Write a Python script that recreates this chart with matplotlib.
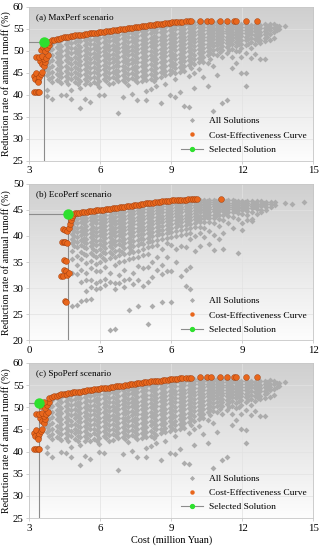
import numpy as np
import matplotlib.pyplot as plt
from matplotlib.lines import Line2D
from matplotlib.colors import LinearSegmentedColormap

plt.rcParams['font.family'] = ['Liberation Serif', 'DejaVu Serif']

# --- nube de soluciones, escenario (a) MaxPerf (columnas de coste y sus tasas) ---
cloud_cost_a = [3.75, 3.95, 4.15, 4.35, 4.55, 4.75, 4.95, 5.15, 5.35, 5.55, 5.75, 5.95,
                6.15, 6.35, 6.55, 6.75, 6.95, 7.15, 7.35, 7.55, 7.75, 7.95, 8.15, 8.35,
                8.55, 8.75, 8.95, 9.15, 9.35, 9.55, 9.75, 9.95, 10.15, 10.35, 10.55, 10.75,
                10.95, 11.15, 11.35, 11.55, 11.75, 11.95, 12.15, 12.35, 12.55, 12.75, 12.95,
                13.15, 13.35, 13.55, 13.8]
cloud_rate_a = [
    [51.0, 49.5, 48.2, 47.0, 45.6, 44.4, 41.0, 39.6],
    [51.6, 50.4, 49.0, 47.8, 46.5, 45.2, 44.0, 42.8, 38.9],
    [52.0, 50.8, 49.4, 48.6, 47.3, 45.8, 44.6, 43.4],
    [52.3, 51.1, 49.9, 48.8, 47.4, 46.2, 45.0, 43.9, 42.6, 40.0],
    [52.6, 51.4, 50.2, 49.1, 47.9, 46.6, 45.4, 44.3, 43.0, 39.8],
    [52.8, 51.7, 50.5, 49.4, 48.2, 47.0, 45.9, 44.7, 43.5, 41.0, 38.9],
    [53.0, 51.9, 50.7, 49.7, 48.6, 47.5, 46.3, 45.2, 44.1, 42.8],
    [53.1, 52.1, 50.9, 49.8, 48.8, 47.7, 46.7, 45.5, 44.4, 43.2, 41.6, 37.0],
    [53.3, 52.3, 51.2, 50.1, 49.0, 48.0, 46.9, 45.8, 44.6, 43.5, 42.3, 39.0],
    [53.5, 52.5, 51.4, 50.3, 49.3, 48.2, 47.2, 46.1, 45.0, 43.8, 42.5, 38.4],
    [53.6, 52.7, 51.6, 50.5, 49.5, 48.5, 47.4, 46.3, 45.2, 44.1, 42.9],
    [53.8, 52.9, 51.8, 50.7, 49.7, 48.7, 47.7, 46.6, 45.5, 44.4, 43.1, 41.8, 40.0],
    [54.0, 53.1, 52.0, 50.9, 50.0, 48.9, 47.9, 46.8, 45.8, 44.6, 43.5, 39.8],
    [54.1, 53.2, 52.2, 51.1, 50.1, 49.1, 48.1, 47.1, 46.0, 44.9, 43.7, 42.4],
    [54.3, 53.4, 52.4, 51.3, 50.3, 49.3, 48.3, 47.3, 46.2, 45.1, 44.0, 42.7],
    [54.4, 53.6, 52.6, 51.5, 50.6, 49.6, 48.5, 47.5, 46.4, 45.3, 44.2, 43.0, 35.8],
    [54.6, 53.8, 52.8, 51.7, 50.8, 49.8, 48.8, 47.7, 46.6, 45.6, 44.5, 43.3, 39.4],
    [54.8, 53.9, 53.0, 51.9, 50.9, 50.0, 49.0, 47.9, 46.9, 45.8, 44.7, 43.5, 42.2],
    [55.0, 54.1, 53.2, 52.1, 51.1, 50.2, 49.2, 48.2, 47.1, 46.0, 44.9, 43.8, 40.2],
    [55.1, 54.3, 53.4, 52.3, 51.3, 50.4, 49.4, 48.4, 47.3, 46.2, 45.2, 44.0, 42.8, 38.8],
    [55.3, 54.5, 53.6, 52.5, 51.5, 50.6, 49.6, 48.6, 47.5, 46.5, 45.4, 44.3, 43.1],
    [55.5, 54.7, 53.8, 52.7, 51.8, 50.8, 49.8, 48.8, 47.8, 46.7, 45.6, 44.5, 43.4, 40.9, 38.7],
    [55.6, 54.9, 54.0, 52.8, 51.9, 51.0, 50.0, 49.0, 48.0, 46.9, 45.9, 44.7, 43.6, 41.2],
    [55.8, 55.0, 54.2, 53.0, 52.1, 51.2, 50.2, 49.2, 48.2, 47.2, 46.1, 45.0, 43.8, 42.0],
    [55.9, 55.2, 54.3, 53.2, 52.3, 51.4, 50.4, 49.5, 48.5, 47.4, 46.3, 45.2, 44.1, 38.0],
    [56.1, 55.3, 54.5, 53.4, 52.5, 51.6, 50.7, 49.7, 48.7, 47.6, 46.5, 45.4, 44.4, 42.5],
    [56.2, 55.5, 54.7, 53.6, 52.7, 51.8, 50.9, 49.9, 48.9, 47.9, 46.8, 45.7, 44.6, 39.8],
    [56.3, 55.6, 54.8, 53.7, 52.9, 52.0, 51.1, 50.1, 49.1, 48.1, 47.0, 46.0, 44.9, 43.5, 39.5],
    [56.4, 55.7, 54.9, 53.9, 53.1, 52.2, 51.3, 50.3, 49.3, 48.3, 47.3, 46.2, 45.1, 40.5],
    [56.4, 55.8, 55.0, 54.0, 53.2, 52.4, 51.5, 50.5, 49.6, 48.6, 47.6, 46.5, 45.4, 37.5],
    [56.5, 55.9, 55.1, 54.2, 53.4, 52.6, 51.7, 50.8, 49.8, 48.8, 47.8, 46.7, 44.2, 37.1],
    [56.5, 55.9, 55.2, 54.3, 53.5, 52.7, 51.9, 51.0, 50.1, 49.1, 48.1, 47.0, 45.0, 41.5],
    [56.5, 56.0, 55.3, 54.4, 53.7, 52.9, 52.1, 51.2, 50.3, 49.4, 48.4, 47.3, 45.8],
    [56.5, 56.0, 55.3, 54.6, 53.8, 53.1, 52.3, 51.4, 50.5, 49.6, 48.6, 47.5, 44.0],
    [56.5, 56.0, 55.3, 54.7, 54.0, 53.2, 52.5, 51.6, 50.8, 49.9, 48.9, 47.2, 42.0],
    [56.4, 55.9, 55.2, 54.6, 54.0, 53.3, 52.6, 51.8, 51.0, 50.1, 49.2, 46.5, 36.2],
    [56.4, 55.9, 55.2, 54.6, 54.0, 53.4, 52.7, 52.0, 51.2, 50.3, 49.0, 44.5],
    [56.3, 55.8, 55.1, 54.5, 53.9, 53.3, 52.7, 51.9, 51.1, 50.2, 48.5, 38.0],
    [56.2, 55.7, 55.0, 54.5, 53.9, 53.2, 52.5, 51.7, 50.8, 49.5, 38.7],
    [56.1, 55.6, 54.9, 54.3, 53.7, 53.0, 52.3, 51.4, 50.4, 48.5, 46.0],
    [56.0, 55.4, 54.8, 54.2, 53.5, 52.8, 52.0, 51.0, 49.8, 47.2],
    [56.0, 55.3, 54.6, 54.0, 53.3, 52.5, 51.6, 50.5, 48.5, 45.0],
    [56.0, 55.3, 54.6, 53.9, 53.1, 52.3, 51.3, 49.5, 44.8, 42.0],
    [55.9, 55.2, 54.5, 53.7, 52.8, 51.9, 50.5, 48.3],
    [55.8, 55.1, 54.4, 53.5, 52.6, 51.5, 49.2],
    [55.9, 55.1, 54.3, 53.6, 52.5, 51.8, 48.0],
    [56.0, 55.2, 54.5, 53.7, 52.9, 52.1, 48.1],
    [56.1, 55.3, 54.6, 53.8, 52.3],
    [56.0, 55.2, 54.2, 52.8],
    [55.5, 54.8],
    [55.7],
]
# puntos intermedios de la zona densa (a)
fill_cost_a = [3.85, 4.25, 4.65, 5.05, 5.45, 5.85, 6.25, 6.65, 7.05, 7.45, 7.85, 8.25,
               8.65, 9.05, 9.45, 9.85, 10.25, 10.65, 11.05, 11.45, 11.85, 12.25, 12.65,
               13.05, 13.45]
fill_rate_a = [
    [50.9, 49.9, 48.7, 47.4, 46.0, 44.8, 43.6],
    [51.6, 50.4, 49.2, 48.0, 46.8, 45.5, 44.2, 43.0],
    [52.0, 50.8, 49.7, 48.5, 47.3, 46.1, 44.9, 43.7, 42.4],
    [52.4, 51.3, 50.2, 49.2, 48.1, 47.0, 45.8, 44.7, 43.6, 42.3],
    [52.8, 51.7, 50.6, 49.6, 48.5, 47.5, 46.4, 45.3, 44.2, 43.0],
    [53.2, 52.1, 51.1, 50.1, 49.1, 48.1, 47.0, 45.9, 44.8, 43.7, 42.4],
    [53.5, 52.5, 51.5, 50.5, 49.5, 48.5, 47.5, 46.4, 45.3, 44.2, 43.0],
    [53.9, 52.9, 51.9, 50.9, 49.9, 48.9, 47.9, 46.8, 45.7, 44.6, 43.5],
    [54.3, 53.3, 52.3, 51.3, 50.4, 49.4, 48.4, 47.3, 46.2, 45.1, 44.0, 42.8],
    [54.6, 53.7, 52.7, 51.7, 50.8, 49.8, 48.8, 47.7, 46.6, 45.5, 44.4, 43.3],
    [55.0, 54.0, 53.1, 52.1, 51.2, 50.2, 49.2, 48.2, 47.1, 46.0, 44.9, 43.8],
    [55.3, 54.4, 53.4, 52.5, 51.6, 50.6, 49.6, 48.6, 47.6, 46.5, 45.4, 44.3, 43.0],
    [55.6, 54.7, 53.8, 52.9, 52.0, 51.0, 50.1, 49.1, 48.1, 47.0, 45.9, 44.8],
    [55.9, 55.0, 54.2, 53.3, 52.4, 51.5, 50.5, 49.5, 48.5, 47.5, 46.4, 45.3],
    [56.1, 55.3, 54.5, 53.6, 52.7, 51.8, 50.9, 49.9, 48.9, 47.9, 46.8, 45.8],
    [56.2, 55.5, 54.7, 53.9, 53.1, 52.2, 51.3, 50.4, 49.4, 48.4, 47.4, 46.0],
    [56.3, 55.6, 54.9, 54.1, 53.3, 52.5, 51.7, 50.8, 49.9, 48.9, 47.9],
    [56.2, 55.6, 55.0, 54.3, 53.6, 52.9, 52.1, 51.2, 50.3, 49.4, 48.2],
    [56.1, 55.5, 54.9, 54.3, 53.6, 52.9, 52.2, 51.4, 50.6, 49.6],
    [55.9, 55.3, 54.7, 54.1, 53.5, 52.8, 52.0, 51.2, 50.1],
    [55.7, 55.1, 54.5, 53.8, 53.1, 52.3, 51.4, 50.0],
    [55.6, 55.0, 54.3, 53.5, 52.6, 51.6],
    [55.5, 54.8, 54.0, 53.1, 52.2],
    [55.6, 54.9, 54.1, 53.2],
    [55.5, 54.6],
]
# curva coste-efectividad (a)
curve_a = [(3.2, 40.6), (3.27, 40.5), (3.35, 40.7), (3.42, 40.6),
           (3.2, 44.2), (3.25, 43.5), (3.3, 44.8), (3.35, 43.2), (3.42, 43.9), (3.5, 44.6),
           (3.55, 45.1), (3.38, 42.9), (3.45, 47.6), (3.55, 47.0), (3.62, 46.5), (3.68, 47.3),
           (3.6, 48.0), (3.3, 48.6), (3.42, 48.5), (3.55, 48.7), (3.7, 48.4), (3.8, 48.9),
           (3.5, 50.2), (3.58, 50.8), (3.68, 49.9), (3.75, 50.5), (3.82, 51.2), (3.6, 51.3),
           (3.85, 52.0), (3.95, 52.3), (4.05, 52.5), (4.15, 52.6), (4.25, 52.75), (4.35, 52.9),
           (4.45, 53.0), (4.55, 53.1), (4.65, 53.15), (4.75, 53.25), (4.85, 53.35), (4.95, 53.45),
           (5.05, 53.5), (5.15, 53.55), (5.25, 53.65), (5.35, 53.75), (5.45, 53.8), (5.55, 53.9),
           (5.65, 53.95), (5.75, 54.05), (5.85, 54.1), (5.95, 54.2), (6.05, 54.25), (6.15, 54.3),
           (6.25, 54.4), (6.35, 54.45), (6.45, 54.5), (6.55, 54.6), (6.65, 54.7), (6.75, 54.75),
           (6.85, 54.85), (6.95, 54.9), (7.05, 55.0), (7.15, 55.05), (7.25, 55.15), (7.35, 55.25),
           (7.45, 55.3), (7.55, 55.4), (7.65, 55.45), (7.75, 55.55), (7.85, 55.6), (7.95, 55.7),
           (8.05, 55.75), (8.15, 55.85), (8.25, 55.9), (8.35, 55.95), (8.45, 56.0), (8.55, 56.05),
           (8.65, 56.15), (8.75, 56.2), (8.85, 56.25), (8.95, 56.3), (9.05, 56.4), (9.15, 56.45),
           (9.25, 56.5), (9.35, 56.6), (9.45, 56.6), (9.6, 56.65), (9.75, 56.7), (9.85, 56.7),
           (10.2, 56.75), (10.5, 56.8), (10.66, 56.75), (11.06, 56.8), (11.34, 56.8),
           (11.65, 56.8), (11.72, 56.8), (12.14, 56.8), (12.63, 56.75)]
selected_a = (3.63, 51.9)

# --- escenario (b) EcoPerf ---
cloud_cost_b = [1.8, 2.0, 2.2, 2.4, 2.6, 2.8, 3.0, 3.2, 3.4, 3.6, 3.8, 4.0, 4.2, 4.4, 4.6,
                4.8, 5.0, 5.2, 5.4, 5.6, 5.8, 6.0, 6.2, 6.4, 6.6, 6.8, 7.0, 7.2, 7.4, 7.6,
                7.8, 8.0, 8.2, 8.4, 8.6, 8.8, 9.0, 9.2, 9.4, 9.6, 9.8, 10.0, 10.2, 10.4,
                10.8, 11.1, 11.6]
cloud_rate_b = [
    [43.8, 43.0, 42.2, 41.3, 40.4, 39.5, 38.6, 37.2, 35.5, 33.0, 26.5],
    [44.0, 43.2, 42.4, 41.6, 40.7, 39.8, 38.9, 37.8, 36.2, 34.5, 32.8, 26.8],
    [44.2, 43.4, 42.6, 41.8, 41.0, 40.1, 39.2, 38.2, 37.0, 35.5, 33.5, 31.2, 27.5],
    [44.3, 43.5, 42.8, 42.0, 41.2, 40.4, 39.5, 38.6, 37.6, 36.3, 34.8, 33.0, 31.6, 29.5, 27.8],
    [44.4, 43.7, 43.0, 42.2, 41.4, 40.6, 39.8, 38.9, 38.0, 36.8, 35.2, 33.8, 31.5, 30.2, 28.0],
    [44.5, 43.8, 43.1, 42.4, 41.6, 40.8, 40.0, 39.1, 38.2, 37.2, 36.0, 34.6, 33.2, 31.0, 29.8],
    [44.7, 43.9, 43.2, 42.5, 41.8, 41.0, 40.2, 39.3, 38.4, 37.5, 36.3, 35.0, 33.2, 31.3, 30.0],
    [44.8, 44.0, 43.3, 42.6, 41.9, 41.2, 40.4, 39.6, 38.7, 37.7, 36.7, 35.4, 34.0, 31.7, 30.6],
    [44.9, 44.1, 43.5, 42.8, 42.1, 41.4, 40.6, 39.8, 38.9, 38.0, 36.9, 35.7, 33.0, 31.2, 22.0],
    [45.0, 44.3, 43.6, 42.9, 42.2, 41.5, 40.8, 40.0, 39.1, 38.2, 37.1, 36.0, 34.4, 31.0, 29.8, 22.2],
    [45.1, 44.4, 43.8, 43.1, 42.4, 41.7, 40.9, 40.1, 39.3, 38.4, 37.4, 36.3, 35.0, 32.5, 31.0],
    [45.3, 44.5, 43.9, 43.2, 42.5, 41.8, 41.1, 40.3, 39.5, 38.6, 37.6, 36.5, 35.2, 33.5, 31.5, 30.2],
    [45.4, 44.7, 44.0, 43.4, 42.7, 42.0, 41.3, 40.5, 39.7, 38.8, 37.8, 36.8, 35.5, 31.8, 25.8],
    [45.5, 44.8, 44.2, 43.5, 42.9, 42.2, 41.5, 40.7, 39.9, 39.0, 38.0, 37.0, 35.8, 33.0, 30.8],
    [45.7, 44.9, 44.3, 43.7, 43.0, 42.3, 41.6, 40.9, 40.1, 39.2, 38.3, 37.2, 36.0, 34.2, 31.6, 26.5],
    [45.8, 45.1, 44.5, 43.8, 43.2, 42.5, 41.8, 41.1, 40.3, 39.5, 38.5, 37.5, 36.4, 33.8, 30.5],
    [46.0, 45.2, 44.6, 44.0, 43.4, 42.7, 42.0, 41.3, 40.5, 39.7, 38.8, 37.8, 36.5, 34.0, 31.2, 23.2],
    [46.1, 45.4, 44.8, 44.2, 43.6, 42.9, 42.2, 41.5, 40.7, 39.9, 39.0, 38.0, 35.0, 32.2, 26.6],
    [46.2, 45.5, 44.9, 44.3, 43.7, 43.1, 42.4, 41.7, 40.9, 40.1, 39.2, 38.2, 36.0, 33.5],
    [46.4, 45.7, 45.1, 44.5, 43.9, 43.3, 42.6, 41.9, 41.1, 40.3, 39.4, 37.5, 34.5, 32.8, 27.3],
    [46.5, 45.8, 45.2, 44.6, 44.0, 43.4, 42.8, 42.1, 41.3, 40.5, 39.6, 38.6, 36.0, 33.2],
    [46.6, 46.0, 45.4, 44.8, 44.2, 43.6, 43.0, 42.3, 41.5, 40.7, 39.8, 38.2, 33.2, 27.3],
    [46.7, 46.1, 45.5, 44.9, 44.4, 43.8, 43.1, 42.5, 41.8, 41.0, 40.0, 37.5, 35.0],
    [46.8, 46.2, 45.6, 45.1, 44.5, 43.9, 43.3, 42.7, 42.0, 41.2, 40.2, 38.0, 32.3],
    [46.8, 46.3, 45.8, 45.2, 44.7, 44.1, 43.5, 42.8, 42.1, 41.3, 40.3, 37.8, 33.5, 30.5],
    [46.9, 46.4, 45.9, 45.4, 44.8, 44.2, 43.7, 43.0, 42.3, 41.5, 40.6, 39.5, 34.0, 29.8],
    [46.9, 46.5, 46.0, 45.5, 45.0, 44.4, 43.8, 43.2, 42.5, 41.8, 40.0, 37.2],
    [46.9, 46.5, 46.0, 45.5, 45.0, 44.5, 43.9, 43.3, 42.6, 41.8, 40.5, 38.0],
    [46.9, 46.5, 46.1, 45.6, 45.1, 44.6, 44.0, 43.4, 42.7, 41.5, 39.8],
    [46.9, 46.5, 46.1, 45.6, 45.1, 44.6, 44.1, 43.5, 42.6, 41.0, 38.5],
    [46.9, 46.5, 46.1, 45.7, 45.2, 44.7, 44.1, 43.5, 42.5, 40.2, 37.3],
    [46.9, 46.5, 46.1, 45.7, 45.2, 44.7, 44.1, 43.3, 42.0, 39.5],
    [46.8, 46.4, 46.0, 45.6, 45.2, 44.7, 44.0, 43.0, 40.5, 37.5],
    [46.8, 46.4, 46.0, 45.6, 45.1, 44.6, 43.8, 42.5],
    [46.8, 46.4, 46.0, 45.6, 45.1, 44.5, 43.6, 41.5],
    [46.7, 46.3, 45.9, 45.5, 45.0, 44.4, 43.3, 36.8],
    [46.7, 46.3, 45.9, 45.4, 44.9, 44.2, 42.5, 41.2],
    [46.7, 46.3, 45.9, 45.4, 44.8, 44.0, 43.0],
    [46.6, 46.2, 45.8, 45.3, 44.6, 43.2, 42.8],
    [46.6, 46.2, 45.7, 45.1, 44.2],
    [46.6, 46.2, 45.7, 45.0, 44.5],
    [46.5, 46.1, 45.6, 44.9],
    [46.5, 46.1, 45.6],
    [46.5, 46.0],
    [46.3],
    [46.2],
    [46.5],
]
# puntos intermedios de la zona densa (b)
fill_cost_b = [1.9, 2.3, 2.7, 3.1, 3.5, 3.9, 4.3, 4.7, 5.1, 5.5, 5.9, 6.3, 6.7, 7.1,
               7.5, 7.9, 8.3, 8.7, 9.1, 9.5, 9.9]
fill_rate_b = [
    [43.4, 42.6, 41.8, 40.9, 40.0, 39.1, 38.0],
    [43.8, 43.0, 42.2, 41.4, 40.6, 39.7, 38.8, 37.8, 36.6],
    [44.1, 43.4, 42.6, 41.8, 41.0, 40.2, 39.4, 38.5, 37.5, 36.3],
    [44.3, 43.6, 42.9, 42.1, 41.4, 40.6, 39.8, 39.0, 38.0, 37.0, 35.8],
    [44.6, 43.9, 43.2, 42.5, 41.8, 41.1, 40.3, 39.5, 38.6, 37.6, 36.5],
    [44.8, 44.1, 43.5, 42.8, 42.1, 41.4, 40.6, 39.8, 39.0, 38.0, 36.9],
    [45.0, 44.4, 43.7, 43.1, 42.4, 41.7, 40.9, 40.1, 39.3, 38.3, 37.3],
    [45.3, 44.6, 44.0, 43.4, 42.7, 42.0, 41.2, 40.4, 39.6, 38.6],
    [45.5, 44.9, 44.3, 43.7, 43.0, 42.3, 41.6, 40.8, 40.0, 39.1],
    [45.8, 45.2, 44.6, 44.0, 43.4, 42.7, 42.0, 41.2, 40.4],
    [46.1, 45.5, 44.9, 44.3, 43.7, 43.1, 42.4, 41.6, 40.8],
    [46.3, 45.8, 45.2, 44.6, 44.1, 43.5, 42.8, 42.1],
    [46.5, 46.0, 45.5, 44.9, 44.4, 43.8, 43.2, 42.5],
    [46.6, 46.2, 45.7, 45.2, 44.7, 44.1, 43.5, 42.8],
    [46.7, 46.3, 45.8, 45.3, 44.8, 44.3, 43.7],
    [46.7, 46.3, 45.9, 45.4, 44.9, 44.4, 43.8],
    [46.6, 46.2, 45.8, 45.4, 44.9, 44.3],
    [46.6, 46.2, 45.7, 45.3, 44.7],
    [46.5, 46.1, 45.6, 45.1],
    [46.4, 46.0, 45.5],
    [46.3, 45.9],
]
curve_b = [(1.42, 41.4), (1.5, 41.2), (1.58, 41.0), (1.66, 41.5), (1.7, 42.3), (1.75, 43.0),
           (1.8, 43.6), (1.85, 44.0), (1.38, 38.9), (1.45, 38.8), (1.52, 38.8), (1.58, 38.7),
           (1.47, 35.4), (1.53, 35.3), (1.35, 32.4), (1.42, 32.3), (1.48, 33.5), (1.55, 33.2),
           (1.6, 32.5), (1.66, 32.9), (1.52, 27.5), (1.57, 27.3),
           (1.92, 44.3), (2.02, 44.4), (2.12, 44.45), (2.22, 44.5), (2.32, 44.55), (2.42, 44.65),
           (2.52, 44.7), (2.62, 44.75), (2.72, 44.85), (2.82, 44.9), (2.92, 44.95), (3.02, 45.0),
           (3.12, 45.05), (3.22, 45.1), (3.32, 45.15), (3.42, 45.25), (3.52, 45.3), (3.62, 45.35),
           (3.72, 45.4), (3.82, 45.5), (3.92, 45.55), (4.02, 45.6), (4.12, 45.65), (4.22, 45.75),
           (4.32, 45.8), (4.42, 45.9), (4.52, 45.95), (4.62, 46.0), (4.72, 46.1), (4.82, 46.15),
           (4.92, 46.25), (5.02, 46.3), (5.12, 46.35), (5.22, 46.4), (5.32, 46.45), (5.42, 46.5),
           (5.52, 46.55), (5.62, 46.6), (5.72, 46.65), (5.82, 46.7), (5.92, 46.75), (6.02, 46.8),
           (6.12, 46.85), (6.22, 46.85), (6.32, 46.9), (6.42, 46.9), (6.52, 46.95), (6.62, 46.95),
           (6.72, 47.0), (6.82, 47.0), (6.92, 47.0), (7.02, 47.0), (7.1, 47.0), (8.1, 47.0)]
selected_b = (1.65, 44.2)

# --- escenario (c) SpoPerf: la nube y la curva coinciden con (a) ---
cloud_cost_c = cloud_cost_a
cloud_rate_c = cloud_rate_a
fill_cost_c = fill_cost_a
fill_rate_c = fill_rate_a
curve_c = curve_a
selected_c = (3.42, 50.9)

titles = ['(a) MaxPerf scenario', '(b) EcoPerf scenario', '(c) SpoPerf scenario']
xlims = [(3, 15), (0, 12), (3, 15)]
ylims = [(25, 60), (20, 50), (25, 60)]

# posiciones de los ejes en fracciones de figura
boxes = [[0.091, 0.708, 0.882, 0.280],
         [0.091, 0.381, 0.882, 0.285],
         [0.091, 0.058, 0.882, 0.282]]

bg_cmap = LinearSegmentedColormap.from_list('bg', ['#fdfdfd', '#cfcfcf'])


def flatten(cost_cols, rate_cols):
    xs = np.concatenate([[c] * len(r) for c, r in zip(cost_cols, rate_cols)])
    ys = np.concatenate([np.array(r, dtype=float) for r in rate_cols])
    return xs, ys


def draw_panel(ax, cloud, fill, curve, sel, xlim, ylim, title):
    xs, ys = flatten(*cloud)
    fx, fy = flatten(*fill)
    cx, cy = zip(*curve)

    # fondo degradado gris
    grad = np.linspace(1.0, 0.0, 256).reshape(-1, 1)
    ax.imshow(grad, extent=[xlim[0], xlim[1], ylim[0], ylim[1]], aspect='auto',
              cmap=bg_cmap, origin='upper', zorder=0)
    for t in np.arange(ylim[0], ylim[1] + 0.1, 5):
        ax.axhline(t, color='#e2e2e2', lw=0.5, zorder=1)
    for t in np.arange(xlim[0], xlim[1] + 0.1, 3):
        ax.axvline(t, color='#e2e2e2', lw=0.5, zorder=1)

    ax.plot(np.concatenate([xs, fx]), np.concatenate([ys, fy]), 'D', color='#acacac',
            ms=3.0, mew=0, zorder=2)
    ax.plot([xlim[0], sel[0]], [sel[1], sel[1]], color='#8c8c8c', lw=0.8, zorder=3)
    ax.plot([sel[0], sel[0]], [ylim[0], sel[1]], color='#8c8c8c', lw=0.8, zorder=3)
    ax.plot(cx, cy, 'o', color='#e8661c', mec='#9a3a0c', mew=0.3, ms=4.2, zorder=4)
    ax.plot(sel[0], sel[1], 'o', color='#2ee02e', mew=0, ms=7.5, zorder=5)

    ax.set_xlim(xlim)
    ax.set_ylim(ylim)
    ax.set_xticks(np.arange(xlim[0], xlim[1] + 0.1, 3))
    ax.set_yticks(np.arange(ylim[0], ylim[1] + 0.1, 5))
    ax.tick_params(labelsize=7.8, length=2, width=0.5, color='#bdbdbd', pad=2)
    for s in ax.spines.values():
        s.set_color('#c6c6c6')
        s.set_linewidth(0.6)
    ax.text(0.025, 0.93, title, transform=ax.transAxes, fontsize=6.6, va='center')
    ax.set_ylabel('Reduction rate of annual runoff (%)', fontsize=7.2, labelpad=1.5)

    handles = [Line2D([], [], ls='none', marker='D', color='#acacac', ms=2.6, mew=0),
               Line2D([], [], ls='none', marker='o', color='#e8661c', ms=3.2, mew=0),
               Line2D([], [], color='#8c8c8c', lw=0.8, marker='o', mfc='#2ee02e',
                      mec='#2ee02e', ms=2.8)]
    ax.legend(handles, ['All Solutions', 'Cost-Effectiveness Curve', 'Selected Solution'],
              loc='lower right', frameon=False, fontsize=6.8, handlelength=2.4,
              labelspacing=0.6, borderaxespad=0.3, handletextpad=0.6)


fig = plt.figure(figsize=(3.22, 5.5), dpi=100)
panels = [((cloud_cost_a, cloud_rate_a), (fill_cost_a, fill_rate_a), curve_a, selected_a),
          ((cloud_cost_b, cloud_rate_b), (fill_cost_b, fill_rate_b), curve_b, selected_b),
          ((cloud_cost_c, cloud_rate_c), (fill_cost_c, fill_rate_c), curve_c, selected_c)]
for i, (cl, fl, cv, sel) in enumerate(panels):
    ax = fig.add_axes(boxes[i])
    draw_panel(ax, cl, fl, cv, sel, xlims[i], ylims[i], titles[i])
    if i == 2:
        ax.set_xlabel('Cost (million Yuan)', fontsize=7.4, labelpad=2)

fig.savefig('out.png', dpi=100)
